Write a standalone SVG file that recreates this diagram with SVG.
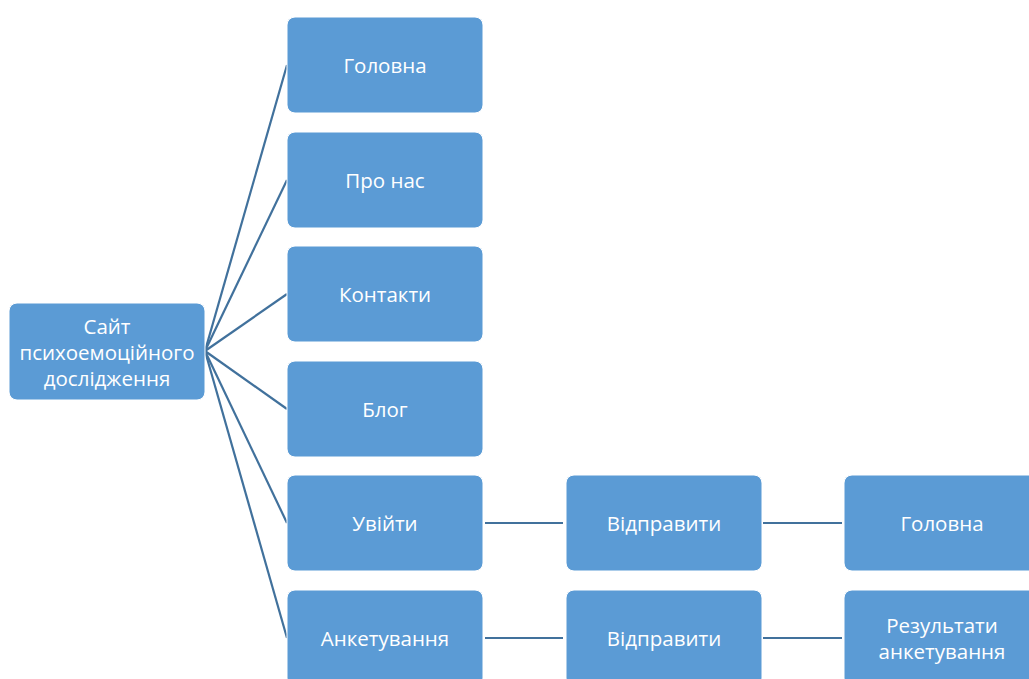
<svg xmlns="http://www.w3.org/2000/svg" width="1029" height="679" viewBox="0 0 1029 679">
<style>
.box{fill:#5B9BD5;stroke:#ffffff;stroke-width:1}
.t{font-family:"Open Sans","Liberation Sans",sans-serif;font-size:20.5px;fill:#ffffff;text-anchor:middle;dominant-baseline:central}
.c{stroke:#41719C;stroke-width:2.2;fill:none}
</style>
<rect width="1029" height="679" fill="#ffffff"/>
<g id="connectors">
<line class="c" x1="205" y1="351" x2="287" y2="65"/>
<line class="c" x1="205" y1="351" x2="287" y2="180"/>
<line class="c" x1="205" y1="351" x2="287" y2="294"/>
<line class="c" x1="205" y1="351" x2="287" y2="409"/>
<line class="c" x1="205" y1="351" x2="287" y2="523"/>
<line class="c" x1="205" y1="351" x2="287" y2="638"/>
<line class="c" x1="485" y1="523" x2="563" y2="523"/>
<line class="c" x1="763" y1="523" x2="842" y2="523"/>
<line class="c" x1="485" y1="638" x2="563" y2="638"/>
<line class="c" x1="763" y1="638" x2="842" y2="638"/>
</g>
<g id="root"><rect class="box" x="9" y="303" width="196" height="97" rx="8"/>
<text class="t" x="107" y="326">Сайт</text><text class="t" x="107" y="352">психоемоційного</text><text class="t" x="107" y="378">дослідження</text></g>
<g id="n1"><rect class="box" x="287" y="17" width="196" height="96" rx="8"/><text class="t" x="385" y="65">Головна</text></g>
<g id="n2"><rect class="box" x="287" y="132" width="196" height="96" rx="8"/><text class="t" x="385" y="180">Про нас</text></g>
<g id="n3"><rect class="box" x="287" y="246" width="196" height="96" rx="8"/><text class="t" x="385" y="294">Контакти</text></g>
<g id="n4"><rect class="box" x="287" y="361" width="196" height="96" rx="8"/><text class="t" x="385" y="409">Блог</text></g>
<g id="n5"><rect class="box" x="287" y="475" width="196" height="96" rx="8"/><text class="t" x="385" y="523">Увійти</text></g>
<g id="n6"><rect class="box" x="287" y="590" width="196" height="96" rx="8"/><text class="t" x="385" y="638">Анкетування</text></g>
<g id="n7"><rect class="box" x="566" y="475" width="196" height="96" rx="8"/><text class="t" x="664" y="523">Відправити</text></g>
<g id="n8"><rect class="box" x="566" y="590" width="196" height="96" rx="8"/><text class="t" x="664" y="638">Відправити</text></g>
<g id="n9"><rect class="box" x="844" y="475" width="196" height="96" rx="8"/><text class="t" x="942" y="523">Головна</text></g>
<g id="n10"><rect class="box" x="844" y="590" width="196" height="96" rx="8"/><text class="t" x="942" y="625">Результати</text><text class="t" x="942" y="651">анкетування</text></g>
</svg>
